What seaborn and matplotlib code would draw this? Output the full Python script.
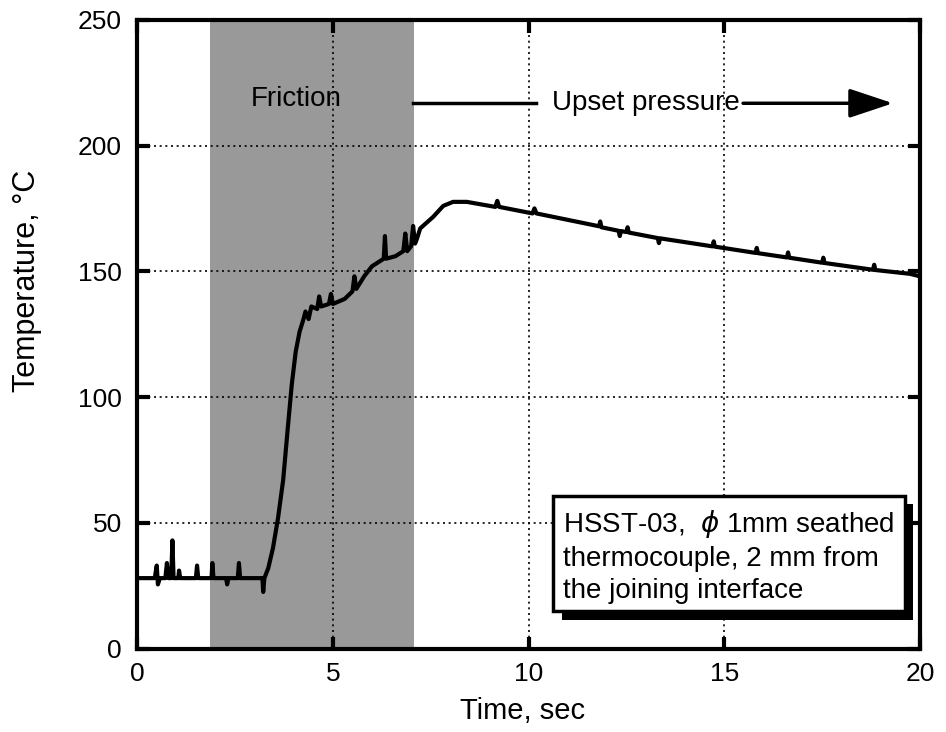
import matplotlib
matplotlib.use("Agg")
import matplotlib.pyplot as plt
import matplotlib.patheffects as pe
from matplotlib.patches import Rectangle
import seaborn as sns
import pandas as pd

time_s = [0.0, 0.45, 0.5, 0.53, 0.58, 0.72, 0.76, 0.8, 0.87, 0.9, 0.93, 1.05, 1.07, 1.1,
          1.5, 1.53, 1.56, 1.9, 1.92, 1.95, 2.27, 2.3, 2.33, 2.57, 2.6, 2.63, 3.2, 3.22, 3.25,
          3.35, 3.47, 3.6, 3.73, 3.85, 3.95, 4.05, 4.15, 4.25, 4.3, 4.38, 4.45, 4.6, 4.65, 4.7,
          4.9, 4.95, 5.0, 5.3, 5.5, 5.55, 5.6, 5.8, 6.0, 6.1, 6.3, 6.33, 6.36, 6.6, 6.8, 6.85,
          6.9, 7.0, 7.05, 7.1, 7.15, 7.23, 7.3, 7.56, 7.82, 8.07, 8.42, 9.15, 9.2, 9.25,
          10.1, 10.15, 10.2, 11.8, 11.83, 11.86, 12.3, 12.33, 12.36, 12.5, 12.53, 12.56,
          13.3, 13.33, 13.36, 14.7, 14.73, 14.76, 15.8, 15.83, 15.86, 16.6, 16.63, 16.66,
          17.5, 17.53, 17.56, 18.8, 18.83, 18.86, 19.74, 20.0]
temp_c = [28, 28, 33, 25.5, 28, 28, 34, 28, 28, 43, 28, 28, 31, 28,
          28, 33, 28, 28, 34, 28, 28, 25.5, 28, 28, 34, 28, 28, 22.5, 28,
          32, 40, 52, 67, 88, 105, 118, 126, 131, 134, 131, 136, 135, 140, 136,
          137, 141, 137, 139, 142, 148, 143, 148, 152, 153, 155, 164, 155, 156, 158, 165,
          158, 160, 168, 161, 163, 167, 168, 171.6, 176, 177.6, 177.6, 175.6, 178, 175.6,
          173, 175, 173, 167.9, 169.8, 167.5, 166.1, 164, 166, 165.6, 167.5, 165.4,
          163.2, 161.2, 163.1, 159.9, 161.9, 159.8, 157.3, 159.3, 157.2, 155.5, 157.5, 155.4,
          153.4, 155.4, 153.3, 150.6, 152.6, 150.5, 149, 148]

x_ticks = [0, 5, 10, 15, 20]
y_ticks = [0, 50, 100, 150, 200, 250]
friction_span = (1.86, 7.06)

plt.rcParams['font.family'] = ['Liberation Sans', 'DejaVu Sans']
plt.rcParams['mathtext.fontset'] = 'dejavusans'

fig = plt.figure(figsize=(9.46, 7.32), dpi=100)
ax = fig.add_axes([0.145, 0.114, 0.8275, 0.859])

ax.axvspan(*friction_span, facecolor='#999999', edgecolor='none', zorder=0)

df = pd.DataFrame({'Time': time_s, 'Temp': temp_c})
sns.lineplot(data=df, x='Time', y='Temp', ax=ax, color='black', lw=3, zorder=5)

ax.set_xlim(0, 20)
ax.set_ylim(0, 250)
ax.set_xticks(x_ticks)
ax.set_yticks(y_ticks)
ax.grid(True, color='black', linestyle=(0, (1.2, 2.2)), linewidth=1.2, zorder=1)
ax.set_axisbelow(False)
for s in ax.spines.values():
    s.set_linewidth(3)
ax.tick_params(direction='in', length=9, width=3, labelsize=19, top=True, right=True)
ax.tick_params(axis='x', pad=10)
ax.tick_params(axis='y', pad=11)
ax.set_xlabel('Time, sec', fontsize=21)
ax.set_ylabel('Temperature, °C', fontsize=22)
ax.xaxis.set_label_coords(0.492, -0.077)
ax.yaxis.set_label_coords(-0.121, 0.584)

ax.text(4.07, 218.6, 'Friction', fontsize=20, ha='center', va='center', zorder=6)
ax.text(13.0, 216.9, 'Upset pressure', fontsize=20, ha='center', va='center', zorder=6)
ax.plot([7.05, 10.2], [216.8, 216.8], color='black', lw=2.5, zorder=6)
ax.annotate('', xy=(19.31, 216.8), xytext=(15.48, 216.8),
            arrowprops=dict(arrowstyle='-|>,head_length=2.7,head_width=0.9',
                            color='black', lw=2.5, shrinkA=0, shrinkB=0),
            zorder=6)

box = Rectangle((10.63, 14.75), 19.62 - 10.63, 60.6 - 14.75, facecolor='white',
                edgecolor='black', linewidth=2.5, zorder=7)
box.set_path_effects([pe.SimplePatchShadow(offset=(6, -6), shadow_rgbFace='black', alpha=1.0),
                      pe.Normal()])
ax.add_patch(box)
ax.text(10.88, 36.8, 'HSST-03,  $\\phi$ 1mm seathed\nthermocouple, 2 mm from\nthe joining interface',
        fontsize=20, ha='left', va='center', linespacing=1.3, zorder=8)

fig.savefig('out.png', dpi=100)
